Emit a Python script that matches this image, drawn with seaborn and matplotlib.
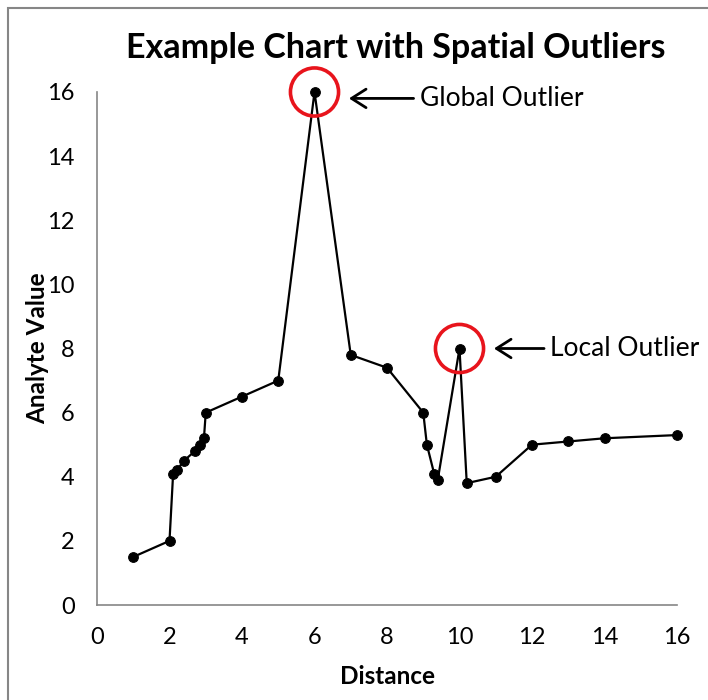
import matplotlib
matplotlib.use("Agg")
import matplotlib.pyplot as plt
from matplotlib.patches import Rectangle
import seaborn as sns

# data
distance = [1, 2, 2.1, 2.2, 2.4, 2.7, 2.85, 2.95, 3, 4, 5, 6, 7, 8,
            9, 9.1, 9.3, 9.4, 10, 10.2, 11, 12, 13, 14, 16]
analyte = [1.5, 2.0, 4.1, 4.2, 4.5, 4.8, 5.0, 5.2, 6.0, 6.5, 7.0, 16.0, 7.8, 7.4,
           6.0, 5.0, 4.1, 3.9, 8.0, 3.8, 4.0, 5.0, 5.1, 5.2, 5.3]
outlier_x = [6, 10]
outlier_y = [16, 8]
outlier_labels = ["Global Outlier", "Local Outlier"]

sns.set_style("white")
plt.rcParams['font.family'] = ['Lato', 'DejaVu Sans']
plt.rcParams['text.color'] = 'black'
plt.rcParams['axes.labelcolor'] = 'black'
gray = '#868686'

fig = plt.figure(figsize=(7.08, 7.0), dpi=100)
ax = fig.add_axes([97/708, 1-605/700, 580/708, 513/700])

sns.lineplot(x=distance, y=analyte, sort=False, estimator=None, ax=ax,
             color='black', lw=1.6, marker='o', markersize=7,
             markeredgecolor='black', clip_on=False)

# red rings round the outliers
ax.scatter(outlier_x, outlier_y, s=1200, facecolors='none', edgecolors='#e8141c',
           linewidths=2.6, clip_on=False, zorder=5)

arrow = dict(arrowstyle='->,head_length=0.55,head_width=0.35',
             lw=2, color='black', shrinkA=2, shrinkB=0)
ax.annotate(outlier_labels[0], xy=(6.95, 15.8), xytext=(8.9, 15.8),
            ha='left', va='center', fontsize=19, arrowprops=arrow)
ax.annotate(outlier_labels[1], xy=(10.95, 8.0), xytext=(12.5, 8.0),
            ha='left', va='center', fontsize=19, arrowprops=arrow)

ax.set_xlim(0, 16)
ax.set_ylim(0, 16)
ax.set_xticks(range(0, 17, 2))
ax.set_yticks(range(0, 17, 2))
for side in ['top', 'right']:
    ax.spines[side].set_visible(False)
for side in ['left', 'bottom']:
    ax.spines[side].set_color(gray)
    ax.spines[side].set_linewidth(1.2)
ax.tick_params(axis='both', direction='out', length=6, width=1.2, color=gray,
               labelsize=17, labelcolor='black')
ax.tick_params(axis='x', pad=10)
ax.tick_params(axis='y', pad=10)
ax.set_xlabel("Distance", fontsize=17.5, fontweight='bold', labelpad=12)
ax.set_ylabel("Analyte Value", fontsize=17.5, fontweight='bold', labelpad=-1)

fig.text(396/708, 1-48/700, "Example Chart with Spatial Outliers",
         ha='center', va='center', fontsize=24.5, fontweight='bold')

# outer chart border
fig.patches.append(Rectangle((8/708, -0.02), 1.0, 1-8/700+0.02, transform=fig.transFigure,
                             fill=False, edgecolor=gray, lw=1.5))

fig.savefig("out.png", dpi=100, facecolor='white')
